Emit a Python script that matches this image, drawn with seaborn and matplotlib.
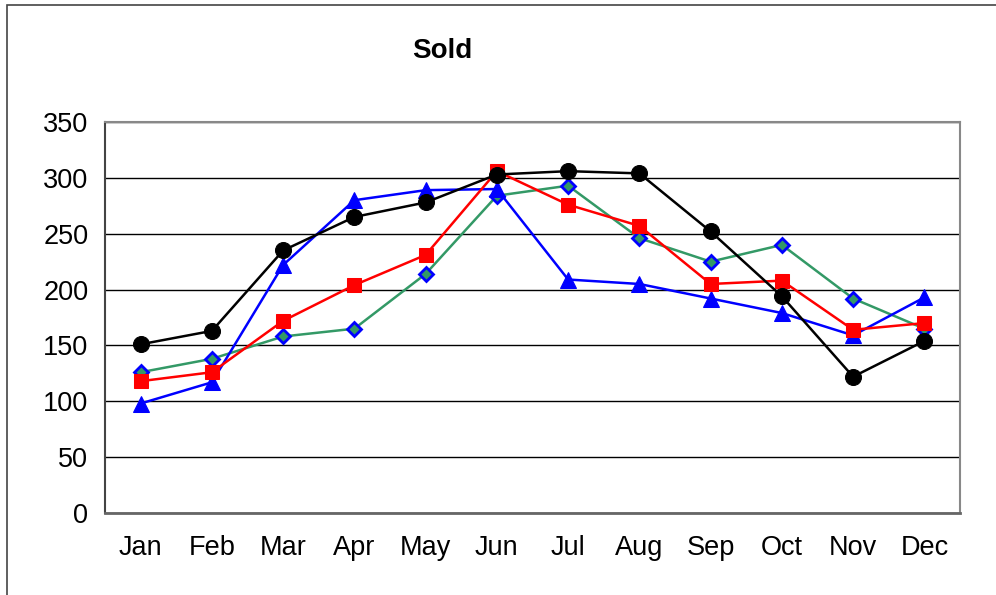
import matplotlib
matplotlib.use("Agg")
import matplotlib.pyplot as plt
import matplotlib.patches as mpatches
import numpy as np
import pandas as pd
import seaborn as sns

sns.set_style("white")
plt.rcParams["font.family"] = ["Liberation Sans", "DejaVu Sans"]
plt.rcParams["text.color"] = "black"
plt.rcParams["xtick.color"] = "black"
plt.rcParams["ytick.color"] = "black"

months = ["Jan", "Feb", "Mar", "Apr", "May", "Jun",
          "Jul", "Aug", "Sep", "Oct", "Nov", "Dec"]
black_vals = [151, 163, 235, 265, 278, 303, 306, 304, 252, 194, 122, 154]
red_vals = [118, 126, 172, 204, 231, 306, 276, 257, 205, 208, 164, 170]
blue_vals = [98, 117, 222, 280, 289, 290, 209, 205, 192, 179, 159, 193]
green_vals = [126, 138, 158, 165, 214, 284, 293, 246, 225, 240, 192, 165]

x = np.arange(len(months))

fig = plt.figure(figsize=(9.96, 5.95), dpi=100)
ax = fig.add_axes([105 / 996, 1 - 513 / 595, 855 / 996, 391 / 595])

# outer chart frame
fig.patches.append(mpatches.Rectangle((7 / 996, -0.2), 1.2, 1.2 - 5 / 595,
                                      transform=fig.transFigure, fill=False,
                                      edgecolor="#444444", linewidth=1.2))

styles = [
    (green_vals, dict(color="#339966", marker="D", markersize=7.5,
                      markerfacecolor="#339966", markeredgecolor="#0000ff",
                      markeredgewidth=2)),
    (blue_vals, dict(color="#0000ff", marker="^", markersize=11.5,
                     markeredgecolor="#0000ff")),
    (red_vals, dict(color="#ff0000", marker="s", markersize=10.5,
                    markeredgecolor="#ff0000")),
    (black_vals, dict(color="black", marker="o", markersize=11.5,
                      markeredgecolor="black")),
]
for vals, kw in styles:
    sns.lineplot(x=x, y=vals, ax=ax, linewidth=1.8, **kw)

ax.set_xlim(-0.5, 11.5)
ax.set_ylim(0, 350)
ax.set_yticks(range(0, 351, 50))
ax.yaxis.grid(True, color="black", linewidth=1)
ax.set_axisbelow(True)

ax.set_xticks(np.arange(-0.5, 12, 1))
ax.set_xticklabels([])
ax.set_xticks(x, minor=True)
ax.set_xticklabels(months, minor=True)
ax.tick_params(axis="x", which="major", direction="out", length=6,
               width=1, color="#444444")
ax.tick_params(axis="x", which="minor", length=0, pad=16, labelsize=19.5,
               labelcolor="black")
ax.tick_params(axis="y", direction="out", length=6, width=1,
               color="#444444", labelsize=19.5, pad=6, labelcolor="black")

for side in ["top", "right"]:
    ax.spines[side].set_color("#888888")
    ax.spines[side].set_linewidth(1.5)
ax.spines["left"].set_color("#444444")
ax.spines["left"].set_linewidth(1.5)
ax.spines["bottom"].set_color("#666666")
ax.spines["bottom"].set_linewidth(2)

fig.text(442 / 996, 1 - 51 / 595, "Sold", ha="center", va="center",
         fontsize=20, fontweight="bold", color="black")

fig.savefig("out.png", dpi=100, facecolor="white")
